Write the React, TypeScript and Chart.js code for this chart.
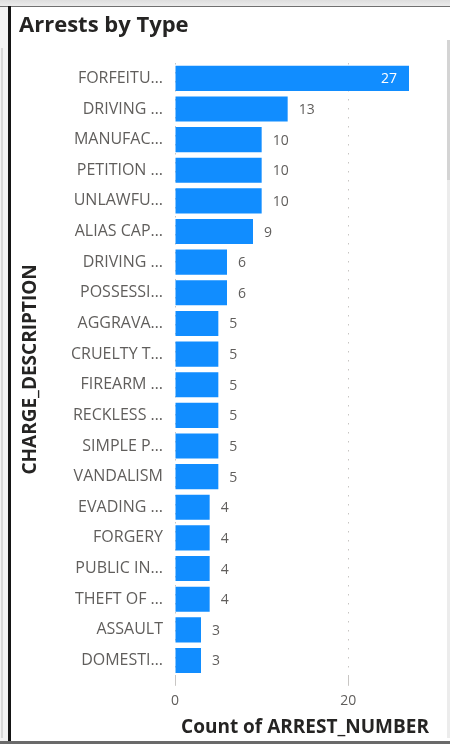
import React, { useEffect, useRef } from "react";
import { Chart, registerables } from "chart.js";

Chart.register(...registerables);

const categories: string[] = [
  "FORFEITU…",
  "DRIVING …",
  "MANUFAC…",
  "PETITION …",
  "UNLAWFU…",
  "ALIAS CAP…",
  "DRIVING …",
  "POSSESSI…",
  "AGGRAVA…",
  "CRUELTY T…",
  "FIREARM …",
  "RECKLESS …",
  "SIMPLE P…",
  "VANDALISM",
  "EVADING …",
  "FORGERY",
  "PUBLIC IN…",
  "THEFT OF …",
  "ASSAULT",
  "DOMESTI…",
];

const arrestCounts: number[] = [27, 13, 10, 10, 10, 9, 6, 6, 5, 5, 5, 5, 5, 5, 4, 4, 4, 4, 3, 3];

const xTickValues: number[] = [0, 20];
const xMax = 30;

const chartTitle = "Arrests by Type";
const yAxisTitle = "CHARGE_DESCRIPTION";
const xAxisTitle = "Count of ARREST_NUMBER";

const FONT = "'Open Sans', 'Noto Sans', sans-serif";

const dataLabelPlugin = {
  id: "dataLabels",
  afterDatasetsDraw(chart: any) {
    const ctx = chart.ctx;
    const meta = chart.getDatasetMeta(0);
    const area = chart.chartArea;
    ctx.save();
    ctx.font = `14px ${FONT}`;
    ctx.textBaseline = "middle";
    meta.data.forEach((bar: any, i: number) => {
      const v = chart.data.datasets[0].data[i];
      const txt = String(v);
      const w = ctx.measureText(txt).width;
      if (bar.x + 11 + w > area.right) {
        ctx.fillStyle = "#ffffff";
        ctx.textAlign = "right";
        ctx.fillText(txt, bar.x - 12, bar.y + 1);
      } else {
        ctx.fillStyle = "#605E5C";
        ctx.textAlign = "left";
        ctx.fillText(txt, bar.x + 11, bar.y + 1);
      }
    });
    ctx.restore();
  },
};

export default function App() {
  const canvasRef = useRef<HTMLCanvasElement | null>(null);

  useEffect(() => {
    if (!canvasRef.current) return;
    const chart = new Chart(canvasRef.current, {
      type: "bar",
      data: {
        labels: categories,
        datasets: [
          {
            data: arrestCounts,
            backgroundColor: "#118DFF",
            borderWidth: 0,
            barPercentage: 0.82,
            categoryPercentage: 1,
          },
        ],
      },
      options: {
        indexAxis: "y",
        responsive: false,
        animation: false,
        devicePixelRatio: 1,
        layout: { padding: { left: 19, right: 15, top: 13, bottom: 2.6 } },
        plugins: {
          legend: { display: false },
          tooltip: { enabled: false },
          title: {
            display: true,
            text: chartTitle,
            align: "start",
            color: "#252423",
            font: { family: FONT, size: 22, weight: "bold" },
            padding: { top: 0, bottom: 23.6 },
          },
        },
        scales: {
          x: {
            type: "linear",
            min: 0,
            max: xMax,
            afterBuildTicks: (scale: any) => {
              scale.ticks = xTickValues.map((v) => ({ value: v }));
            },
            ticks: {
              color: "#605E5C",
              font: { family: FONT, size: 14 },
              padding: 7,
              maxRotation: 0,
            },
            grid: {
              color: "#c8c6c4",
              lineWidth: 1,
              drawTicks: true,
              tickLength: 10,
              tickColor: "#c8c6c4",
            },
            border: { display: false, dash: [1.5, 7.5] },
            title: {
              display: true,
              text: xAxisTitle,
              color: "#252423",
              font: { family: FONT, size: 19, weight: "bold" },
              padding: { top: 0, bottom: 2 },
            },
          },
          y: {
            type: "category",
            afterFit: (scale: any) => {
              scale.width = 156;
            },
            ticks: {
              color: "#605E5C",
              font: { family: FONT, size: 16 },
              padding: 12,
              autoSkip: false,
            },
            grid: { display: false, drawTicks: false },
            border: { display: false },
            title: {
              display: true,
              text: yAxisTitle,
              color: "#252423",
              font: { family: FONT, size: 19, weight: "bold" },
              padding: { top: 0, bottom: 0 },
            },
          },
        },
      },
      plugins: [dataLabelPlugin],
    } as any);
    return () => chart.destroy();
  }, []);

  return (
    <div style={{ position: "absolute", left: 0, top: 0, width: 450, height: 744, background: "#ffffff", overflow: "hidden" }}>
      <canvas ref={canvasRef} width={450} height={744} style={{ position: "absolute", left: 0, top: 0, width: 450, height: 744 }} />
      <div style={{ position: "absolute", left: 0, top: 0, width: 8, height: 744, background: "#f2f2f2" }} />
      <div style={{ position: "absolute", left: 1, top: 48, width: 2, height: 690, background: "#d6d6d6" }} />
      <div style={{ position: "absolute", left: 0, top: 0, width: 450, height: 6, background: "linear-gradient(#dedede, #ececec)" }} />
      <div style={{ position: "absolute", left: 0, top: 6, width: 450, height: 1, background: "#707070" }} />
      <div style={{ position: "absolute", left: 8, top: 6, width: 3, height: 738, background: "#151515" }} />
      <div style={{ position: "absolute", left: 0, top: 741, width: 450, height: 3, background: "#6a6a6a" }} />
      <div style={{ position: "absolute", left: 447, top: 40, width: 3, height: 698, background: "#ececec" }} />
      <div style={{ position: "absolute", left: 447, top: 40, width: 3, height: 140, background: "#d4d4d4" }} />
    </div>
  );
}
